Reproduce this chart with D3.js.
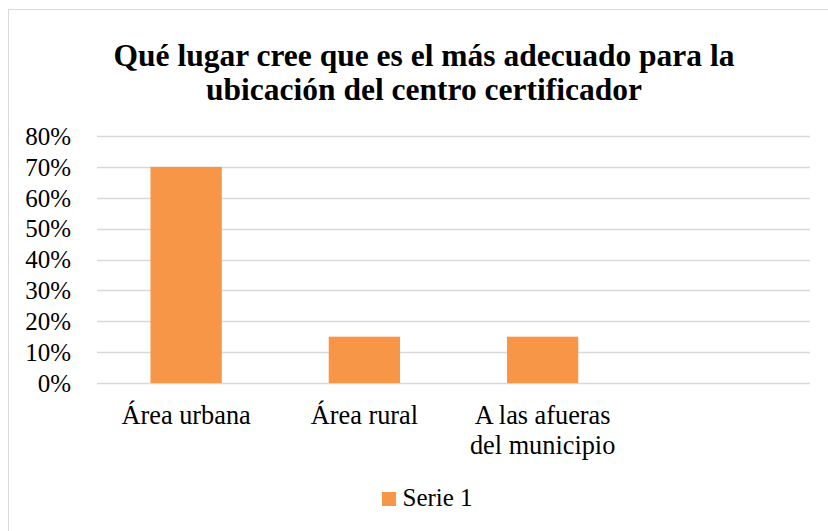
<!DOCTYPE html>
<html>
<head>
<meta charset="utf-8">
<script src="https://cdn.jsdelivr.net/npm/d3@7"></script>
</head>
<body style="margin:0;padding:0;background:#fff">
<svg id="chart" width="828" height="531" style="display:block"></svg>
<script>
const titleLines = ["Qué lugar cree que es el más adecuado para la", "ubicación del centro certificador"];
const categories = ["Área urbana", "Área rural", "A las afueras del municipio", ""];
const categoryLines = [["Área urbana"], ["Área rural"], ["A las afueras", "del municipio"], [""]];
const seriesName = "Serie 1";
const values = [0.70, 0.15, 0.15, null];
const yTicks = [0, 0.1, 0.2, 0.3, 0.4, 0.5, 0.6, 0.7, 0.8];

const W = 828, H = 531;
const FONT = "Liberation Serif";
const svg = d3.select("#chart");
const barColor = "#F79646";
const gridColor = "#D9D9D9";

// chart border
svg.append("rect")
  .attr("x", 8.5).attr("y", 9.5)
  .attr("width", W + 20).attr("height", H + 20)
  .attr("fill", "#fff").attr("stroke", gridColor).attr("stroke-width", 1);

// title
svg.append("g").selectAll("text").data(titleLines).join("text")
  .attr("x", 424).attr("y", (d, i) => 66 + i * 34)
  .attr("text-anchor", "middle")
  .attr("font-family", FONT).attr("font-size", 31.5).attr("font-weight", "bold").attr("fill", "#000")
  .text(d => d);

const plot = { left: 97, right: 810, top: 136, bottom: 383 };

const x = d3.scaleBand().domain(categories.map((c, i) => i))
  .range([plot.left, plot.right]).paddingInner(0.6).paddingOuter(0.3);
const y = d3.scaleLinear().domain([0, 0.8]).range([plot.bottom, plot.top]);

// gridlines
svg.append("g").selectAll("line").data(yTicks).join("line")
  .attr("x1", plot.left).attr("x2", plot.right)
  .attr("y1", d => Math.round(y(d)) + 0.5).attr("y2", d => Math.round(y(d)) + 0.5)
  .attr("stroke", gridColor).attr("stroke-width", 1.3);

// y axis labels
const yAxis = d3.axisLeft(y).tickValues(yTicks).tickFormat(d3.format(".0%")).tickSize(0).tickPadding(0);
const yg = svg.append("g").attr("transform", `translate(${71},0)`).call(yAxis)
  .attr("font-family", FONT).attr("font-size", 25);
yg.select(".domain").remove();
yg.selectAll("text").attr("font-family", FONT).attr("font-size", 25).attr("fill", "#000").attr("dy", "0.33em");

// bars
svg.append("g").selectAll("rect").data(values.map((v, i) => ({ v, i })).filter(d => d.v != null)).join("rect")
  .attr("x", d => x(d.i)).attr("width", x.bandwidth())
  .attr("y", d => y(d.v)).attr("height", d => y(0) - y(d.v))
  .attr("fill", barColor);

// category labels
const cg = svg.append("g");
categoryLines.forEach((lines, i) => {
  if (!lines[0]) return;
  const cx = x(i) + x.bandwidth() / 2;
  cg.append("text").attr("x", cx).attr("y", 424)
    .attr("text-anchor", "middle").attr("font-family", FONT).attr("font-size", 26.3).attr("fill", "#000")
    .selectAll("tspan").data(lines).join("tspan")
    .attr("x", cx).attr("dy", (d, j) => j === 0 ? 0 : 29.5)
    .text(d => d);
});

// legend
svg.append("rect").attr("x", 382).attr("y", 492).attr("width", 14).attr("height", 14).attr("fill", barColor);
svg.append("text").attr("x", 402.5).attr("y", 506)
  .attr("font-family", FONT).attr("font-size", 25).attr("fill", "#000").text(seriesName);
</script>
</body>
</html>
